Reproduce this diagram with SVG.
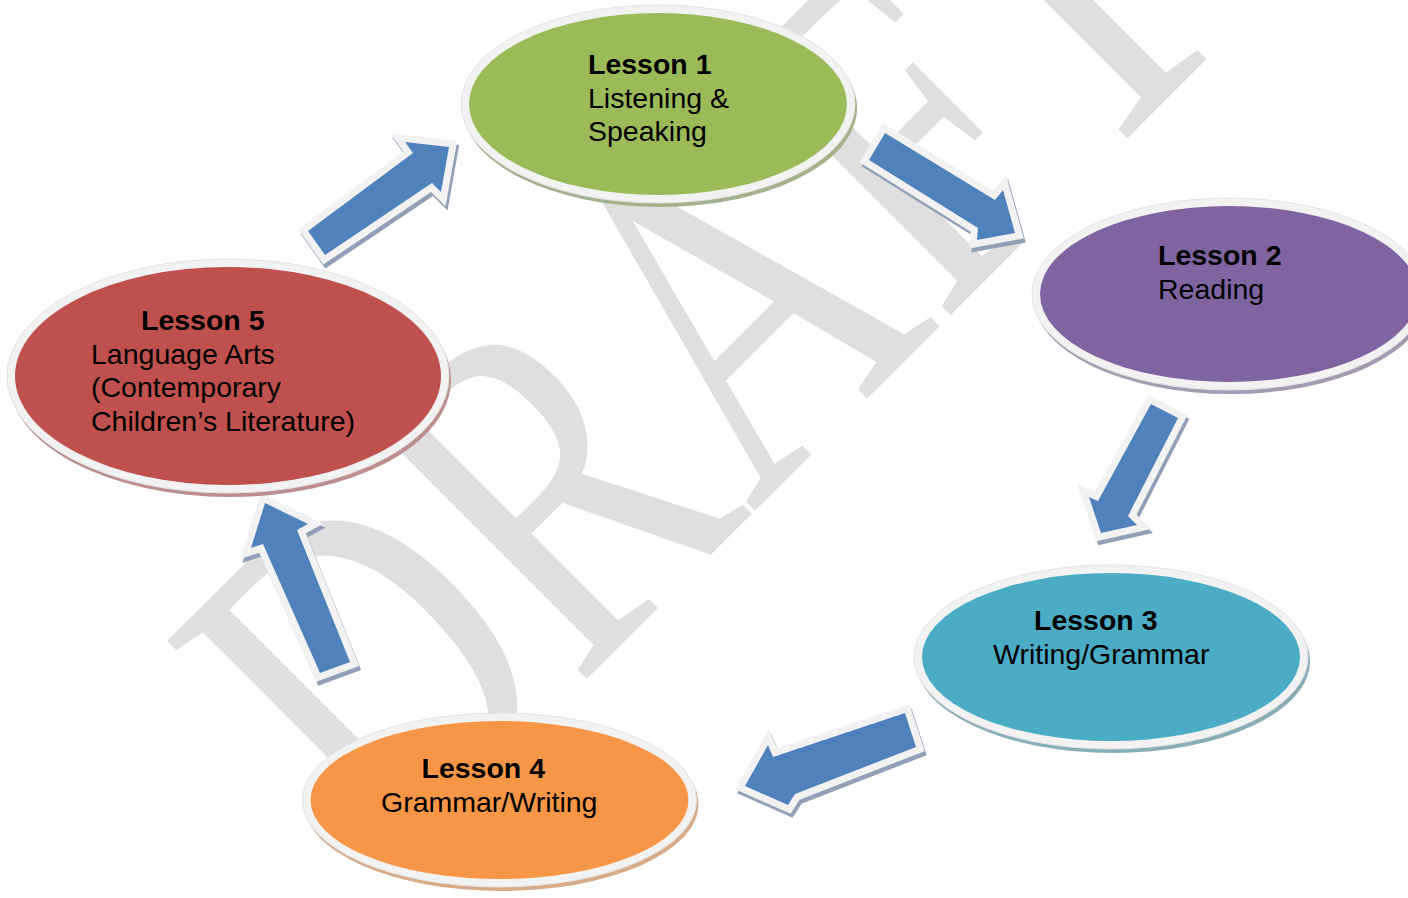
<svg xmlns="http://www.w3.org/2000/svg" width="1408" height="898" viewBox="0 0 1408 898">
  <style>
    .wm { font-family: "Liberation Serif", "Times New Roman", serif; fill: #dfdfdf; }
    .t { font-family: "Liberation Sans", Arial, sans-serif; font-size: 28.5px; fill: #000; }
    .b { font-weight: bold; }
    .rim { fill: #f2f2f2; stroke: #e4e4e4; stroke-width: 1; }
    .arrow { fill: #4f81bd; stroke: #f2f2f2; stroke-width: 14; stroke-linejoin: miter; stroke-miterlimit: 3; paint-order: stroke; }
    .ashadow { fill: #8fa0b8; stroke: #8fa0b8; stroke-width: 14; stroke-linejoin: miter; stroke-miterlimit: 3; }
  </style>
  <rect x="0" y="0" width="1408" height="898" fill="#ffffff"/>

  <g id="watermark">
    <text class="wm" transform="rotate(-45) scale(0.75,1)" x="-461" y="895" font-size="494">DRAFT</text>
  </g>

  <g id="connectors">
    <g id="arrow-5-1">
      <polygon class="ashadow" transform="translate(2,4)" points="308,231 413,153 405,142 449,147 441,192 432,183 325,255"/>
      <polygon class="arrow" points="308,231 413,153 405,142 449,147 441,192 432,183 325,255"/>
    </g>
    <g id="arrow-1-2">
      <polygon class="ashadow" transform="translate(2,4)" points="885,133 995,200 1003,190 1015,233 977,240 978,228 869,160"/>
      <polygon class="arrow" points="885,133 995,200 1003,190 1015,233 977,240 978,228 869,160"/>
    </g>
    <g id="arrow-2-3">
      <polygon class="ashadow" transform="translate(2,4)" points="1151,404 1178,418 1128,516 1137,525 1101,533 1089,497 1098,501"/>
      <polygon class="arrow" points="1151,404 1178,418 1128,516 1137,525 1101,533 1089,497 1098,501"/>
    </g>
    <g id="arrow-3-4">
      <polygon class="ashadow" transform="translate(2,4)" points="905,713 916,747 795,794 788,805 745,786 768,745 773,757"/>
      <polygon class="arrow" points="905,713 916,747 795,794 788,805 745,786 768,745 773,757"/>
    </g>
    <g id="arrow-4-5">
      <polygon class="ashadow" transform="translate(2,4)" points="320,673 350,662 297,530 308,524 265,503 251,548 263,544"/>
      <polygon class="arrow" points="320,673 350,662 297,530 308,524 265,503 251,548 263,544"/>
    </g>
  </g>

  <g id="lesson1">
    <ellipse cx="660" cy="108" rx="197" ry="99" fill="#a3b28a"/>
    <ellipse class="rim" cx="658" cy="104" rx="197" ry="99"/>
    <ellipse cx="658" cy="104" rx="189" ry="91" fill="#9bbb59"/>
    <text class="t b" x="588" y="73.5">Lesson 1</text>
    <text class="t" x="588" y="107.5">Listening &amp;</text>
    <text class="t" x="588" y="140.5">Speaking</text>
  </g>

  <g id="lesson2">
    <ellipse cx="1231" cy="298" rx="197" ry="96" fill="#a49bb2"/>
    <ellipse class="rim" cx="1229" cy="294" rx="197" ry="96"/>
    <ellipse cx="1229" cy="294" rx="189" ry="88" fill="#8064a2"/>
    <text class="t b" x="1158" y="265">Lesson 2</text>
    <text class="t" x="1158" y="298.5">Reading</text>
  </g>

  <g id="lesson3">
    <ellipse cx="1113" cy="661" rx="197" ry="92" fill="#88adb9"/>
    <ellipse class="rim" cx="1111" cy="657" rx="197" ry="92"/>
    <ellipse cx="1111" cy="657" rx="189" ry="84" fill="#4bacc6"/>
    <text class="t b" x="1034" y="630">Lesson 3</text>
    <text class="t" x="993" y="664">Writing/Grammar</text>
  </g>

  <g id="lesson4">
    <ellipse cx="501.5" cy="804" rx="197" ry="87" fill="#d8ab88"/>
    <ellipse class="rim" cx="499.5" cy="800" rx="197" ry="87"/>
    <ellipse cx="499.5" cy="800" rx="189" ry="79" fill="#f79646"/>
    <text class="t b" x="421.5" y="777.5">Lesson 4</text>
    <text class="t" x="381" y="811.5">Grammar/Writing</text>
  </g>

  <g id="lesson5">
    <ellipse cx="230" cy="380" rx="221" ry="117" fill="#bc8e8e"/>
    <ellipse class="rim" cx="228" cy="376" rx="221" ry="117"/>
    <ellipse cx="228" cy="376" rx="213" ry="109" fill="#c0504d"/>
    <text class="t b" x="141" y="330">Lesson 5</text>
    <text class="t" x="91" y="363.5">Language Arts</text>
    <text class="t" x="91" y="397">(Contemporary</text>
    <text class="t" x="91" y="430.5">Children’s Literature)</text>
  </g>
</svg>
